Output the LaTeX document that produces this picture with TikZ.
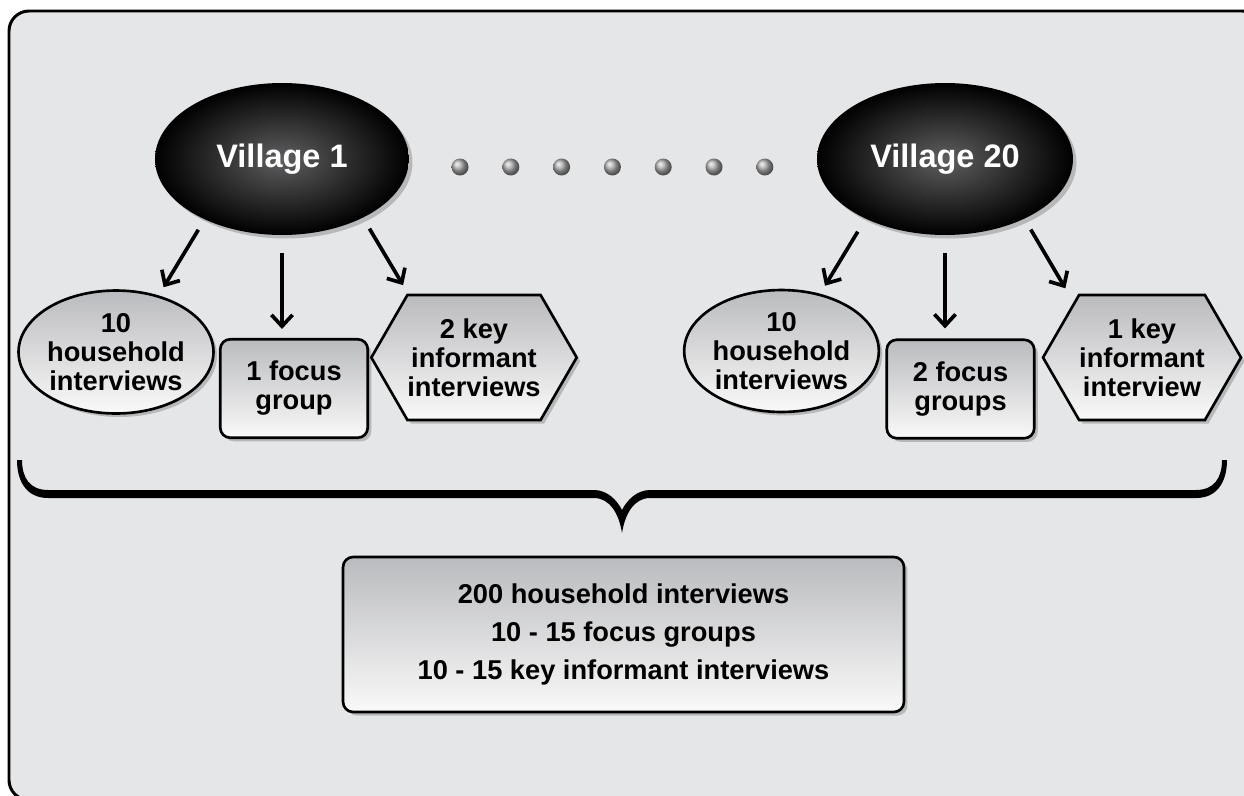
\documentclass[tikz,border=0pt]{standalone}
\usepackage{fontspec}
\setmainfont{Liberation Sans}
\usetikzlibrary{arrows.meta,shapes.geometric,shapes.symbols,shadows,positioning}

\definecolor{panelgray}{RGB}{229,230,232}
\definecolor{boxtop}{RGB}{186,187,190}
\definecolor{boxbottom}{RGB}{249,249,249}
\definecolor{villagecore}{RGB}{95,95,97}

\begin{document}
\begin{tikzpicture}[x=0.02cm, y=-0.02cm, >={Straight Barb[length=6.5pt,width=12pt]},
                    every edge/.style={draw,line width=2.1pt},
                    village/.style={ellipse, inner color=villagecore, outer color=black,
                      text=white, font=\bfseries\fontsize{18.5}{22}\selectfont, inner sep=0pt,
                      minimum width=5.08cm, minimum height=3.04cm,
                      drop shadow={shadow xshift=2pt, shadow yshift=-2pt, opacity=0.45}},
                    leaf/.style={draw=black, line width=1.5pt, top color=boxtop,
                      bottom color=boxbottom, align=center, inner sep=0pt,
                      font=\bfseries\fontsize{15.5}{16.5}\selectfont,
                      drop shadow={shadow xshift=2pt, shadow yshift=-2pt, opacity=0.45}},
                    household/.style={leaf, ellipse, minimum width=3.9cm, minimum height=2.46cm},
                    focus/.style={leaf, rectangle, rounded corners=0.2cm,
                      minimum width=2.95cm, minimum height=1.97cm},
                    informant/.style={leaf, signal, signal to=west and east,
                      signal pointer angle=120, minimum width=3.96cm, minimum height=2.5cm}]

\path[use as bounding box] (0,0) rectangle (1244,795);
\clip (0,0) rectangle (1244,795);
\draw[line width=1.7pt, fill=panelgray, rounded corners=0.4cm] (9,11) rectangle (1262,800);

% the two villages and the dots between them
\node[village] (v1) at (282,159) {Village 1};
\node[village, minimum width=5.12cm] (v20) at (945,159) {Village 20};
\foreach \k in {0,...,6}
  \shade[ball color=gray!65!white] (460+50.8*\k,167) circle (0.17cm);

% what each village gives
\node[household] (hh1) at (116,352) {10\\household\\interviews};
\node[focus] (fg1) at (294,388.5) {1 focus\\group};
\node[informant] (ki1) at (474,357.5) {2 key\\informant\\interviews};

\node[household, minimum width=3.86cm, minimum height=2.44cm] (hh20) at (781.5,351) {10\\household\\interviews};
\node[focus] (fg20) at (960.5,389) {2 focus\\groups};
\node[informant] (ki20) at (1142,357.5) {1 key\\informant\\interview};

\path[->, line width=2.1pt]
(v1.218) edge [shorten <=6.8pt, shorten >=5.4pt] (hh1.53)
(v1.south) edge [shorten <=10.2pt, shorten >=5.1pt] (v1.south |- fg1.north)
(v1.324) edge [shorten <=7.1pt, shorten >=6pt] (ki1.136)
(v20.217) edge [shorten <=8.5pt, shorten >=5.3pt] (hh20.56)
(v20.south) edge [shorten <=10.2pt, shorten >=5.7pt] (v20.south |- fg20.north)
(v20.323) edge [shorten <=7pt, shorten >=9pt] (ki20.141);

% brace over both groups
\fill (17,460) .. controls (17,482) and (27,498) .. (48,498) -- (594,498)
  .. controls (610,498) and (619,514) .. (622,533)
  .. controls (625,514) and (634,498) .. (650,498) -- (1196,498)
  .. controls (1217,498) and (1227,482) .. (1227,460) -- (1222,460)
  .. controls (1222,478) and (1214,490) .. (1196,490) -- (650,490)
  .. controls (637,490) and (627,500) .. (622,510)
  .. controls (617,500) and (607,490) .. (594,490) -- (48,490)
  .. controls (30,490) and (22,478) .. (22,460) -- cycle;

\node[leaf, rectangle, rounded corners=0.2cm, minimum width=11.22cm, minimum height=3.1cm,
      font=\bfseries\fontsize{15.5}{21.8}\selectfont] (total) at (623.5,634.5)
  {200 household interviews\\10 - 15 focus groups\\10 - 15 key informant interviews};
\end{tikzpicture}
\end{document}
